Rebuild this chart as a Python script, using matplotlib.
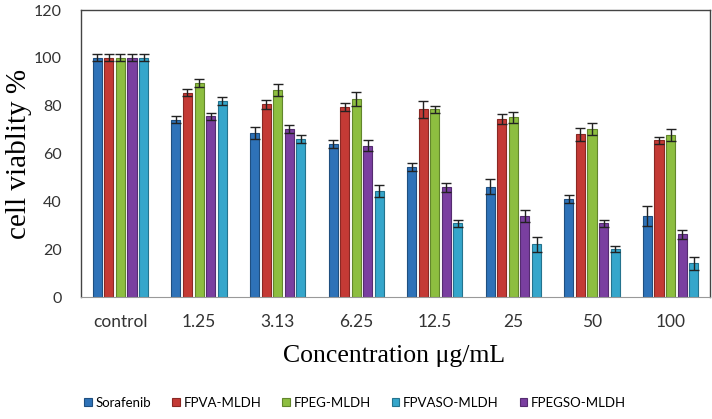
import numpy as np
import matplotlib
matplotlib.use('Agg')
import matplotlib.pyplot as plt

# 数据
concentrations = ['control', '1.25', '3.13', '6.25', '12.5', '25', '50', '100']
series_names = ['Sorafenib', 'FPVA-MLDH', 'FPEG-MLDH', 'FPEGSO-MLDH', 'FPVASO-MLDH']
sorafenib = [100, 74.1, 68.7, 64.0, 54.5, 46.2, 41.0, 33.9]
fpva = [100, 85.4, 80.6, 79.6, 78.5, 74.5, 68.0, 65.5]
fpeg = [100, 89.4, 86.6, 82.8, 78.5, 75.2, 70.2, 67.8]
fpegso = [100, 75.6, 70.3, 63.2, 45.9, 33.9, 30.8, 26.2]
fpvaso = [100, 82.1, 66.0, 44.4, 30.8, 22.0, 20.0, 14.1]
sorafenib_err = [1.5, 1.4, 2.6, 1.5, 1.6, 3.0, 1.5, 4.0]
fpva_err = [1.5, 1.5, 2.0, 1.7, 3.6, 2.0, 2.8, 1.5]
fpeg_err = [1.5, 1.7, 2.4, 3.0, 1.5, 2.3, 2.6, 2.5]
fpegso_err = [1.5, 1.4, 1.5, 2.3, 2.0, 2.5, 1.5, 2.0]
fpvaso_err = [1.5, 1.7, 1.6, 2.5, 1.5, 3.0, 1.3, 2.6]

values = [sorafenib, fpva, fpeg, fpegso, fpvaso]
errors = [sorafenib_err, fpva_err, fpeg_err, fpegso_err, fpvaso_err]
colors = ['#2E72B8', '#C43A35', '#8DBE40', '#7A3FA0', '#35A6CB']
edges = ['#1F4F80', '#8A2824', '#62862C', '#552C70', '#24738E']

fig = plt.figure(figsize=(7.12, 4.19), dpi=100)
ax = fig.add_axes([0.114, 0.291, 0.883, 0.685])

x = np.arange(len(concentrations))
step = 0.147
width = 0.115
bars = {}
for i in range(5):
    pos = x + (i - 2) * step
    b = ax.bar(pos, values[i], width, color=colors[i], edgecolor=edges[i],
               linewidth=0.8, label=series_names[i], zorder=2)
    ax.errorbar(pos, values[i], yerr=errors[i], fmt='none', ecolor='#222222',
                elinewidth=1.0, capsize=3.5, capthick=1.0, zorder=3)
    bars[series_names[i]] = b

ax.set_xlim(-0.5, 7.5)
ax.set_ylim(0, 120)
ax.set_yticks(range(0, 121, 20))
ax.set_xticks(x)
ax.set_xticklabels(concentrations)
for lab in ax.get_xticklabels() + ax.get_yticklabels():
    lab.set_family('Lato')
ax.tick_params(axis='y', length=0, labelsize=11.5, colors='#333333', pad=14)
ax.tick_params(axis='x', length=0, labelsize=12.5, colors='#333333', pad=12)

for s in ['top', 'right', 'left']:
    ax.spines[s].set_color('#444444')
    ax.spines[s].set_linewidth(1.0)
ax.spines['bottom'].set_color('#999999')

ax.set_ylabel('cell viablity %', fontsize=21, family='Liberation Serif', labelpad=1)
fig.text(0.553, 0.151, 'Concentration \u03bcg/mL', fontsize=18.5,
         family='Liberation Serif', ha='center', va='center')

order = ['Sorafenib', 'FPVA-MLDH', 'FPEG-MLDH', 'FPVASO-MLDH', 'FPEGSO-MLDH']
fig.legend([bars[n] for n in order], order, loc='center',
           bbox_to_anchor=(0.499, 0.038), ncol=5, frameon=False,
           prop={'family': 'Lato', 'size': 9.5}, handlelength=0.55,
           handleheight=0.55, handletextpad=0.3, columnspacing=1.6)

plt.savefig('out.png', dpi=100)
